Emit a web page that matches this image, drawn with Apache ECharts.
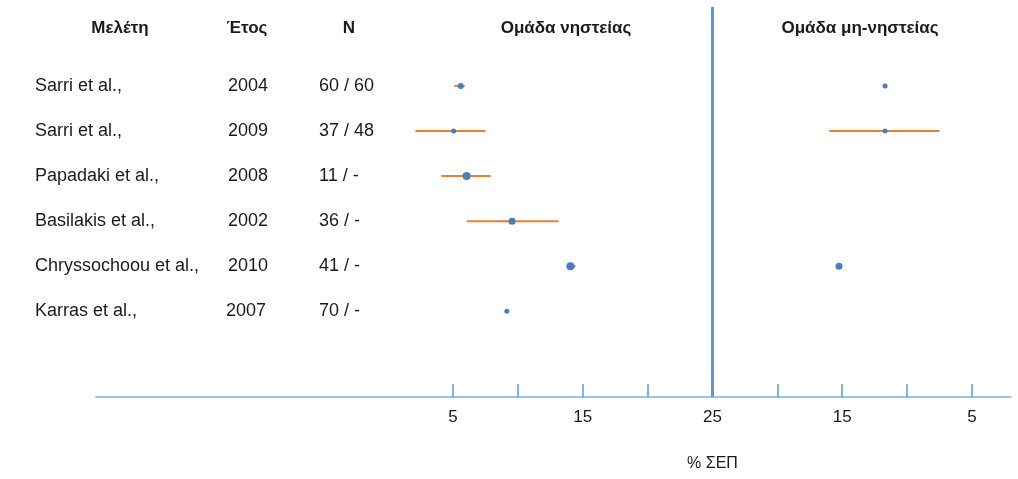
<!DOCTYPE html>
<html>
<head>
<meta charset="utf-8">
<script src="https://cdn.jsdelivr.net/npm/echarts@6/dist/echarts.min.js"></script>
<style>
  html, body { margin: 0; padding: 0; background: #ffffff; }
  #chart { width: 1018px; height: 479px; }
</style>
</head>
<body>
<div id="chart"></div>
<script>
// Studies listed in the table (top to bottom)
const studies = ['Sarri et al.,', 'Sarri et al.,', 'Papadaki et al.,', 'Basilakis et al.,', 'Chryssochoou et al.,', 'Karras et al.,'];
const years = ['2004', '2009', '2008', '2002', '2010', '2007'];
const sampleSizes = ['60 / 60', '37 / 48', '11 / -', '36 / -', '41 / -', '70 / -'];

// % ΣΕΠ, fasting group: estimate and interval
const fastMean = [5.6, 5.05, 6.05, 9.55, 14.05, 9.15];
const fastLow  = [5.1, 2.1, 4.1, 6.05, 14.0, null];
const fastHigh = [5.9, 7.5, 7.9, 13.15, 14.45, null];

// % ΣΕΠ, non-fasting group: estimate and interval
const nonMean = [11.7, 11.7, null, null, 15.25, null];
const nonLow  = [null, 7.5, null, null, null, null];
const nonHigh = [null, 16.0, null, null, null, null];

// Axis labels
const headers = ['Μελέτη', 'Έτος', 'Ν', 'Ομάδα νηστείας', 'Ομάδα μη-νηστείας'];
const axisTitle = '% ΣΕΠ';
const tickValues = [5, 10, 15, 20, 25, 30, 35, 40, 45];
const labelValues = [5, 15, 25, 35, 45];

// The axis is mirrored around 25: the right half runs back down to 5
const CENTER = 25;
const mirror = v => 2 * CENTER - v;

const FONT = '"Liberation Sans", Arial, sans-serif';
const TEXT = '#1a1a1a';
const POINT = '#4a7ebb';
const BAR = '#ed7d31';
const AXIS_BLUE = '#5b9bd5';

const pointSizeFast = [6, 5, 8, 7, 8, 5];
const pointSizeNon = [5, 5, 0, 0, 7, 0];

const pointData = [];
const barData = [];
studies.forEach((s, i) => {
  const row = i + 1;
  if (fastMean[i] != null) pointData.push({ value: [fastMean[i], row], symbolSize: pointSizeFast[i] });
  if (nonMean[i] != null) pointData.push({ value: [mirror(nonMean[i]), row], symbolSize: pointSizeNon[i] });
  if (fastLow[i] != null) barData.push([fastLow[i], fastHigh[i], row]);
  if (nonLow[i] != null) barData.push([mirror(nonHigh[i]), mirror(nonLow[i]), row]);
});

const chart = echarts.init(document.getElementById('chart'), null, { renderer: 'canvas' });

chart.setOption({
  animation: false,
  backgroundColor: '#ffffff',
  grid: { left: 96.2, right: 7.1, top: 7, bottom: 82, containLabel: false },
  xAxis: {
    type: 'value',
    min: -22.5,
    max: 48,
    splitLine: { show: false },
    axisLine: { show: true, onZero: false, lineStyle: { color: '#9dc3e6', width: 2 } },
    axisTick: {
      show: true, inside: true, length: 13, customValues: tickValues,
      lineStyle: { color: AXIS_BLUE, width: 1.5 }
    },
    axisLabel: {
      customValues: labelValues, margin: 12,
      color: TEXT, fontFamily: FONT, fontSize: 17,
      formatter: v => String(v <= CENTER ? v : mirror(v))
    }
  },
  yAxis: {
    type: 'value', inverse: true, min: -0.75, max: 7.9,
    show: false, splitLine: { show: false }
  },
  series: [
    {
      type: 'custom',
      name: 'interval',
      data: barData,
      z: 2,
      renderItem: (params, api) => {
        const a = api.coord([api.value(0), api.value(2)]);
        const b = api.coord([api.value(1), api.value(2)]);
        return {
          type: 'line',
          shape: { x1: a[0], y1: a[1], x2: b[0], y2: b[1] },
          style: { stroke: BAR, lineWidth: 2 }
        };
      }
    },
    {
      type: 'scatter',
      name: 'estimate',
      data: pointData,
      z: 3,
      itemStyle: { color: POINT, opacity: 1 },
      markLine: {
        silent: true,
        symbol: 'none',
        label: { show: false },
        lineStyle: { color: AXIS_BLUE, width: 3, type: 'solid' },
        data: [{ xAxis: CENTER }]
      }
    }
  ]
});

// Table text and headers placed on the rows of the value scale
const rowY = r => chart.convertToPixel({ gridIndex: 0 }, [0, r])[1];
const rowFont = { fontFamily: FONT, fontSize: 18, fill: TEXT };
const headFont = { fontFamily: FONT, fontSize: 17, fontWeight: 'bold', fill: TEXT };
const graphics = [];
const headerX = [120, 247, 349, 566, 860];
headers.forEach((h, i) => {
  graphics.push({ type: 'text', x: headerX[i], y: 28,
    style: Object.assign({ text: h, align: 'center', verticalAlign: 'middle' }, headFont) });
});
const yearX = [228, 228, 228, 228, 228, 226];
studies.forEach((s, i) => {
  const y = rowY(i + 1);
  graphics.push({ type: 'text', x: 35, y: y,
    style: Object.assign({ text: s, align: 'left', verticalAlign: 'middle' }, rowFont) });
  graphics.push({ type: 'text', x: yearX[i], y: y,
    style: Object.assign({ text: years[i], align: 'left', verticalAlign: 'middle' }, rowFont) });
  graphics.push({ type: 'text', x: 319, y: y,
    style: Object.assign({ text: sampleSizes[i], align: 'left', verticalAlign: 'middle' }, rowFont) });
});
const centerX = chart.convertToPixel({ gridIndex: 0 }, [CENTER, 0])[0];
graphics.push({ type: 'text', x: centerX, y: 464,
  style: Object.assign({ text: axisTitle, align: 'center', verticalAlign: 'middle' }, rowFont, { fontSize: 16 }) });

chart.setOption({ graphic: graphics });
</script>
</body>
</html>
